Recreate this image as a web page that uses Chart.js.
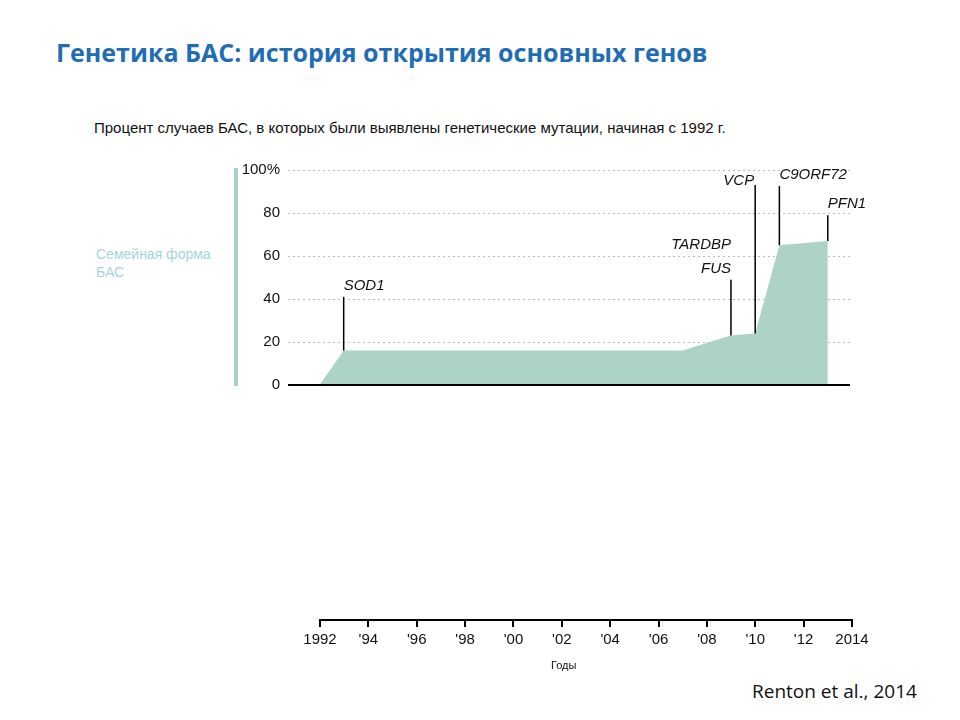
<!DOCTYPE html>
<html><head><meta charset="utf-8">
<script src="https://cdn.jsdelivr.net/npm/chart.js@4.4.1/dist/chart.umd.min.js"></script>
<style>
body{margin:0;width:960px;height:720px;background:#fff;position:relative;overflow:hidden;font-family:"Liberation Sans",Arial,sans-serif}
canvas{position:absolute;left:0;top:0}
.t{position:absolute;white-space:nowrap}
</style></head><body>
<div class="t" style="left:56px;top:35px;font:bold 25px 'Open Sans',sans-serif;color:#1f6db3">Генетика БАС: история открытия основных генов</div>
<div class="t" style="left:94px;top:119px;font-size:15px;color:#111">Процент случаев БАС, в которых были выявлены генетические мутации, начиная с 1992 г.</div>
<div class="t" style="left:96px;top:245px;font-size:14px;color:#a3d6d8;line-height:18px">Семейная форма<br>БАС</div>
<div style="position:absolute;left:234px;top:168px;width:4px;height:218px;background:#a9d0c4"></div>
<div class="t" style="left:752px;top:678px;font:19px 'Open Sans',sans-serif;color:#111">Renton et al., 2014</div>
<canvas id="top" width="960" height="720"></canvas>
<canvas id="bot" width="960" height="720"></canvas>
<script>
const years = [1992, 1993, 2007, 2009, 2010, 2011, 2013, 2013];
const percent = [0, 16, 16, 23, 24, 65, 67, 0];
const genes = ["SOD1", "FUS", "VCP", "C9ORF72", "PFN1"];
const geneYears = [1993, 2009, 2010, 2011, 2013];
const geneBase = [16, 23, 24, 65, 67];
const geneTop = [41, 49, 93, 92.5, 79];
const yearTicks = {1992:"1992",1994:"'94",1996:"'96",1998:"'98",2000:"'00",2002:"'02",2004:"'04",2006:"'06",2008:"'08",2010:"'10",2012:"'12",2014:"2014"};

const genePlugin = {
  id: "genes",
  afterDatasetsDraw(chart) {
    const {ctx, scales: {x, y}} = chart;
    ctx.save();
    // baseline
    ctx.strokeStyle = "#000"; ctx.lineWidth = 2;
    ctx.beginPath(); ctx.moveTo(x.left, y.getPixelForValue(0)); ctx.lineTo(x.right - 2, y.getPixelForValue(0)); ctx.stroke();
    ctx.lineWidth = 1.5;
    ctx.fillStyle = "#111";
    ctx.font = "italic 15px 'Liberation Sans', Arial, sans-serif";
    genes.forEach((g, i) => {
      const px = x.getPixelForValue(geneYears[i]);
      const yt = y.getPixelForValue(geneTop[i]);
      ctx.beginPath(); ctx.moveTo(px, y.getPixelForValue(geneBase[i])); ctx.lineTo(px, yt); ctx.stroke();
      ctx.textBaseline = "bottom";
      if (g === "FUS") {
        ctx.textAlign = "right";
        ctx.fillText("FUS", px, yt - 3);
        ctx.fillText("TARDBP", px, yt - 27);
      } else if (g === "VCP") {
        ctx.textAlign = "right";
        ctx.fillText(g, px - 1, yt + 3);
      } else {
        ctx.textAlign = "left";
        ctx.fillText(g, px, yt - 4);
      }
    });
    ctx.restore();
  }
};

new Chart(document.getElementById("top"), {
  type: "line",
  data: {datasets: [{data: years.map((v, i) => ({x: v, y: percent[i]})), fill: "origin",
    backgroundColor: "#acd3c4", borderWidth: 0, pointRadius: 0, tension: 0}]},
  options: {
    responsive: false, animation: false,
    layout: {padding: {left: 0, right: 108, top: 170, bottom: 335}},
    plugins: {legend: {display: false}, tooltip: {enabled: false}},
    scales: {
      x: {type: "linear", min: 1990.7, max: 2014, display: false},
      y: {min: 0, max: 100, afterFit(s) { s.width = 288; },
        border: {display: false, dash: [2, 3]},
        grid: {color: "#bbb", drawTicks: false},
        ticks: {stepSize: 20, padding: 8, color: "#111", font: {size: 15, family: "'Liberation Sans', Arial"},
          callback: v => v === 100 ? "100%" : v}}
    }
  },
  plugins: [genePlugin]
});

new Chart(document.getElementById("bot"), {
  type: "line",
  data: {datasets: [{data: []}]},
  options: {
    responsive: false, animation: false,
    layout: {padding: {left: 320, right: 108, top: 560, bottom: 0}},
    plugins: {legend: {display: false}, tooltip: {enabled: false}},
    scales: {
      y: {display: false},
      x: {type: "linear", min: 1992, max: 2014, afterFit(s) { s.height = 100; },
        border: {display: true, color: "#000", width: 2},
        grid: {display: true, drawOnChartArea: false, color: "#000", lineWidth: 2, tickLength: 7},
        ticks: {stepSize: 2, maxRotation: 0, autoSkip: false, padding: 4, color: "#111",
          font: {size: 15, family: "'Liberation Sans', Arial"}, callback: v => yearTicks[v]},
        title: {display: false}}
    }
  }
});
</script>
<div class="t" style="left:551px;top:659px;font-size:11px;color:#111">Годы</div>
</body></html>
